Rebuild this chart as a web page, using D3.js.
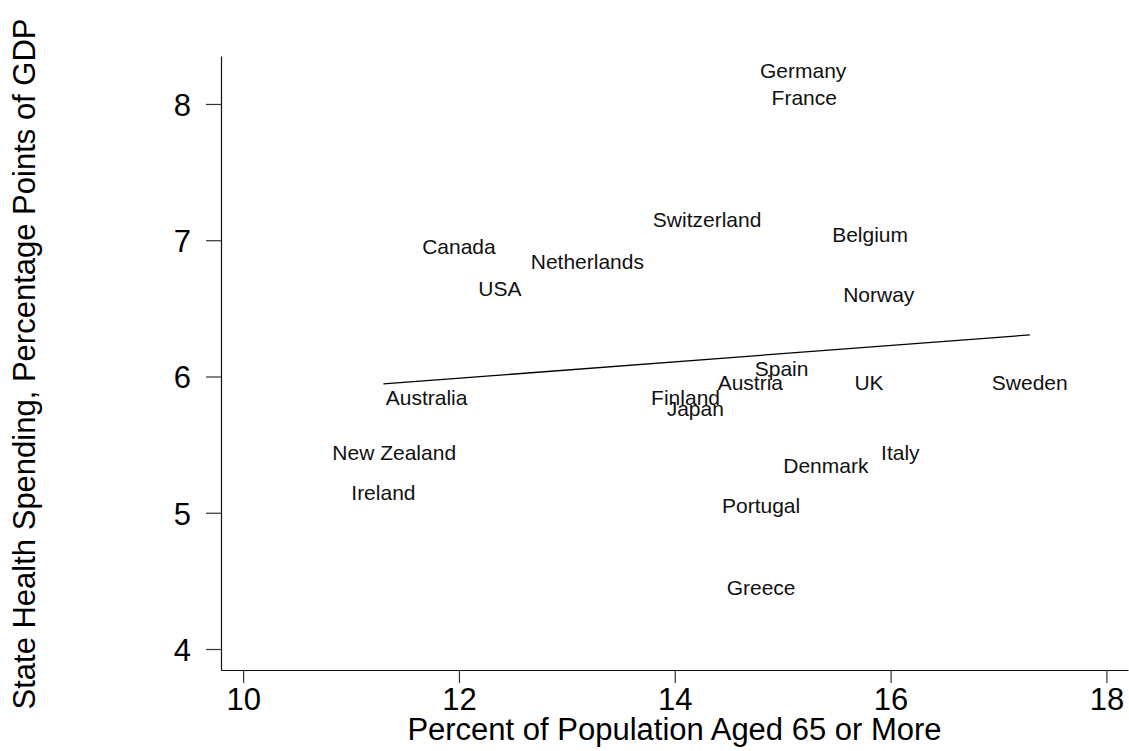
<!DOCTYPE html>
<html>
<head>
<meta charset="utf-8">
<script src="https://cdn.jsdelivr.net/npm/d3@7"></script>
<style>
  html, body { margin: 0; padding: 0; background: #fff; }
  svg { display: block; font-family: "Liberation Sans", Arial, Helvetica, sans-serif; }
</style>
</head>
<body>
<svg id="chart" width="1129" height="751"></svg>
<script>
// Country labels and their values
const countries = ["Germany", "France", "Switzerland", "Belgium", "Canada", "Netherlands",
  "USA", "Norway", "Spain", "Austria", "UK", "Sweden", "Finland", "Japan", "Australia",
  "New Zealand", "Ireland", "Italy", "Denmark", "Portugal", "Greece"];
// Percent of population aged 65 or more
const aged65 = [15.19, 15.20, 14.30, 15.81, 12.00, 13.19,
  12.38, 15.89, 14.99, 14.70, 15.80, 17.29, 14.10, 14.19, 11.70,
  11.40, 11.30, 16.09, 15.40, 14.80, 14.80];
// State health spending, percentage points of GDP
const healthSpend = [8.19, 7.99, 7.10, 6.99, 6.90, 6.79,
  6.59, 6.55, 6.00, 5.90, 5.90, 5.90, 5.79, 5.71, 5.79,
  5.39, 5.09, 5.39, 5.29, 5.00, 4.40];

const xTicks = [10, 12, 14, 16, 18];
const yTicks = [4, 5, 6, 7, 8];
const xTitle = "Percent of Population Aged 65 or More";
const yTitle = "State Health Spending, Percentage Points of GDP";

const data = countries.map((c, i) => ({ name: c, x: aged65[i], y: healthSpend[i] }));

const svg = d3.select("#chart");
const plotLeft = 221, plotRight = 1128, plotTop = 56, plotBottom = 670;

const x = d3.scaleLinear().domain([9.795, 18.2]).range([plotLeft, plotRight]);
const y = d3.scaleLinear().domain([3.846, 8.352]).range([plotBottom, plotTop]);

svg.append("rect").attr("width", 1129).attr("height", 751).attr("fill", "#fff");

// Axes
const xAxis = svg.append("g")
  .attr("transform", `translate(0,${plotBottom})`)
  .call(d3.axisBottom(x).tickValues(xTicks).tickSize(13).tickSizeOuter(0).tickPadding(5).tickFormat(d3.format("d")));
const yAxis = svg.append("g")
  .attr("transform", `translate(${plotLeft},0)`)
  .call(d3.axisLeft(y).tickValues(yTicks).tickSize(15).tickSizeOuter(0).tickPadding(15).tickFormat(d3.format("d")));

[xAxis, yAxis].forEach(g => {
  g.select(".domain").attr("stroke", "#111").attr("stroke-width", 1.2);
  g.selectAll(".tick line").attr("stroke", "#333").attr("stroke-width", 1.2);
  g.selectAll(".tick text")
    .attr("fill", "#000")
    .style("font-size", "31px")
    .style("font-family", "'Liberation Sans', Arial, sans-serif");
});
yAxis.selectAll(".tick text").attr("dy", "0.37em");

// Linear fit over the observed range
const mx = d3.mean(aged65), my = d3.mean(healthSpend);
const sxy = d3.sum(data, d => (d.x - mx) * (d.y - my));
const sxx = d3.sum(data, d => (d.x - mx) ** 2);
const slope = sxy / sxx, intercept = my - slope * mx;
const [xmin, xmax] = d3.extent(aged65);
svg.append("path")
  .datum([xmin, xmax].map(v => [v, intercept + slope * v]))
  .attr("fill", "none")
  .attr("stroke", "#000")
  .attr("stroke-width", 1.3)
  .attr("d", d3.line().x(d => x(d[0])).y(d => y(d[1])));

// Country labels centred on each observation
svg.append("g").selectAll("text")
  .data(data)
  .join("text")
  .attr("x", d => x(d.x))
  .attr("y", d => y(d.y))
  .attr("text-anchor", "middle")
  .attr("fill", "#111")
  .style("font-size", "21px")
  .text(d => d.name);

// Axis titles
svg.append("text")
  .attr("x", (plotLeft + plotRight) / 2)
  .attr("y", 740)
  .attr("text-anchor", "middle")
  .style("font-size", "31px")
  .attr("fill", "#000")
  .text(xTitle);

svg.append("text")
  .attr("transform", "translate(35,364) rotate(-90)")
  .attr("text-anchor", "middle")
  .style("font-size", "31px")
  .attr("fill", "#000")
  .text(yTitle);
</script>
</body>
</html>
